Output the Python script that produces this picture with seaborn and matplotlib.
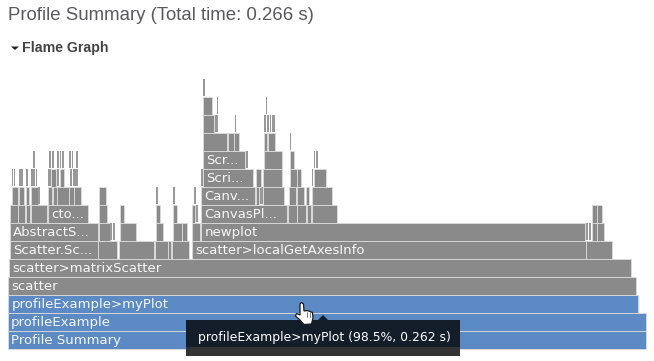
import matplotlib
matplotlib.use('Agg')
import matplotlib.pyplot as plt
import seaborn as sns
from matplotlib.patches import Polygon, Rectangle

# Flame graph frames, one set of lists per stack level (x scale is 0-654)
starts_0 = [7.5]
widths_0 = [638]
labels_0 = ['Profile Summary']
starts_1 = [7.5]
widths_1 = [638]
labels_1 = ['profileExample']
starts_2 = [8]
widths_2 = [630]
labels_2 = ['profileExample>myPlot']
starts_3 = [8]
widths_3 = [628]
labels_3 = ['scatter']
starts_4 = [9]
widths_4 = [622]
labels_4 = ['scatter>matrixScatter']
starts_5 = [9.5, 98, 119, 155, 168, 172, 191.5, 585.5]
widths_5 = [88, 19, 35, 13, 3, 17, 394, 26]
labels_5 = ['Scatter.Sc...', '', '', '', '', '', 'scatter>localGetAxesInfo', '']
starts_6 = [9.5, 98.5, 110, 112.5, 120, 156, 173, 182, 191.5, 201, 585.5, 587, 589, 592, 597]
widths_6 = [88, 11, 2, 2, 16, 7, 9, 5, 8.5, 384, 1, 1, 2, 4.5, 7]
labels_6 = ['AbstractS...', '', '', '', '', '', '', '', '', 'newplot', '', '', '', '', '']
starts_7 = [10, 18, 26, 31, 48, 99, 120, 156, 173, 191.5, 196, 201, 288, 297, 307, 312, 592, 597]
widths_7 = [7.5, 7, 4, 16, 40, 8, 4, 4, 4, 3.5, 1.5, 86, 8.5, 9, 4, 25, 4.5, 4.5]
labels_7 = ['', '', '', '', 'cto...', '', '', '', '', '', '', 'CanvasPl...', '', '', '', '', '', '']
starts_8 = [12, 19, 26, 31, 38, 48, 52.5, 57, 69, 74, 99, 156, 173, 194, 201, 256, 260, 263, 289, 297, 306, 312]
widths_8 = [6, 5, 3, 6.5, 2, 4, 4, 11.5, 4.5, 6.5, 6.5, 1.5, 1.5, 1.5, 54, 3, 2.5, 21, 7, 6.5, 3, 20]
labels_8 = ['', '', '', '', '', '', '', '', '', '', '', '', '', '', 'Canv...', '', '', '', '', '', '', '']
starts_9 = [12, 13.5, 19, 21, 26, 31, 33, 35.5, 48, 51, 57, 60, 69.5, 72.5, 75, 201, 203, 256, 263, 290, 297, 312, 313.5]
widths_9 = [1.2, 1.6, 1.7, 1.7, 1.7, 1.5, 1.7, 1.7, 2.5, 5, 1.7, 4, 2.5, 2, 2.5, 1.5, 50, 5, 19, 7, 4, 1.2, 12]
labels_9 = ['', '', '', '', '', '', '', '', '', '', '', '', '', '', '', '', 'Scri...', '', '', '', '', '', '']
starts_10 = [32.7, 49, 51.7, 57.3, 60, 62.3, 69.3, 72, 76, 203, 246, 264, 290, 314, 316]
widths_10 = [2.3, 1.7, 2, 1.7, 1.4, 1.7, 1.7, 1.2, 2, 42, 2.3, 18, 4, 1.3, 2]
labels_10 = ['', '', '', '', '', '', '', '', '', 'Scr...', '', '', '', '', '']
starts_11 = [203, 227.5, 234, 264, 268, 290]
widths_11 = [24, 6, 5, 3, 7, 1.3]
starts_12 = [203, 215, 217, 235, 264, 266.5, 268.3, 270, 271.7, 273.3]
widths_12 = [11, 1.7, 1.3, 1.3, 1.7, 1, 1, 1, 1, 1.3]
starts_13 = [203, 217, 266]
widths_13 = [9, 1.3, 1.3]
starts_14 = [203.3]
widths_14 = [1.3]

# hover halo around the highlighted frame
hover_start = 6.5
hover_width = 633.5

tooltip_text = 'profileExample>myPlot (98.5%, 0.262 s)'
title_text = 'Profile Summary (Total time: 0.266 s)'
section_text = 'Flame Graph'

GREY = '#8a8a8a'
BLUE = '#5b8ac4'
EDGE = '#dcdcdc'

levels = [
    (0, starts_0, widths_0, labels_0, BLUE),
    (1, starts_1, widths_1, labels_1, BLUE),
    (2, starts_2, widths_2, labels_2, BLUE),
    (3, starts_3, widths_3, labels_3, GREY),
    (4, starts_4, widths_4, labels_4, GREY),
    (5, starts_5, widths_5, labels_5, GREY),
    (6, starts_6, widths_6, labels_6, GREY),
    (7, starts_7, widths_7, labels_7, GREY),
    (8, starts_8, widths_8, labels_8, GREY),
    (9, starts_9, widths_9, labels_9, GREY),
    (10, starts_10, widths_10, labels_10, GREY),
    (11, starts_11, widths_11, [''] * 6, GREY),
    (12, starts_12, widths_12, [''] * 10, GREY),
    (13, starts_13, widths_13, [''] * 3, GREY),
    (14, starts_14, widths_14, [''], GREY),
]

sns.set_theme(style='white')
plt.rcParams['font.family'] = ['DejaVu Sans']

fig = plt.figure(figsize=(6.54, 3.61), dpi=100)
ax = fig.add_axes([0, 0, 1, 1])

sns.barplot(x=[hover_width], y=[2], left=hover_start, orient='h', native_scale=True,
            width=1.08, color='#ececec', saturation=1, errorbar=None, ax=ax)

for level, starts, widths, labels, colour in levels:
    for start, w, label in zip(starts, widths, labels):
        # very narrow frames would be all border, so they get none
        if w < 2.6:
            sns.barplot(x=[w], y=[level], left=start, orient='h', native_scale=True,
                        width=0.95, color='#999999', saturation=1, errorbar=None,
                        linewidth=0, ax=ax)
        else:
            sns.barplot(x=[w], y=[level], left=start, orient='h', native_scale=True,
                        width=1, color=colour, saturation=1, errorbar=None,
                        edgecolor=EDGE, linewidth=0.6, ax=ax)
        if label:
            ax.text(start + 3.6, level - 0.03, label, color='#f7f7f7', fontsize=9.55,
                    va='center', ha='left')

ax.set_xlim(0, 654)
# level 0 sits at the bottom, each level is 18 px tall
ax.set_ylim(-1.194, 18.861)
ax.axis('off')

# Page chrome drawn on top in pixel coordinates
top = fig.add_axes([0, 0, 1, 1], facecolor='none')
top.set_xlim(0, 654)
top.set_ylim(361, 0)
top.axis('off')

top.text(7.5, 15.5, title_text, family='Liberation Sans', fontsize=13.4, color='#59595f',
         va='center', ha='left')
top.add_patch(Polygon([(11, 46.5), (19, 46.5), (15, 50)], color='#222222', lw=0))
top.text(22, 48, section_text, family='Liberation Sans', fontsize=10.2, fontweight='bold',
         color='#444444', va='center', ha='left')

# Tooltip
top.add_patch(Rectangle((186, 320), 274, 36, color='#333333', lw=0))
top.add_patch(Rectangle((186, 320), 274, 27, color='#141e2b', lw=0))
top.add_patch(Polygon([(318, 320), (328, 320), (323, 315)], color='#141e2b', lw=0))
top.text(198, 338, tooltip_text, color='#ffffff', fontsize=8.9, va='center', ha='left')

# Hand cursor
hand = [(300, 304), (301.5, 302.5), (303.5, 304), (304, 311), (307, 310.5), (310, 311.5),
        (312.5, 312.5), (313, 318), (311.5, 324), (304, 324.5), (300, 320), (295.5, 316),
        (296.5, 313.5), (300, 315)]
top.add_patch(Polygon(hand, facecolor='white', edgecolor='#1c1c1c', lw=0.9, zorder=5))
top.plot([306.5, 306.5], [311.5, 317], color='#666666', lw=0.6, zorder=6)
top.plot([309.5, 309.5], [312, 317], color='#666666', lw=0.6, zorder=6)

fig.savefig('out.png', dpi=100)
